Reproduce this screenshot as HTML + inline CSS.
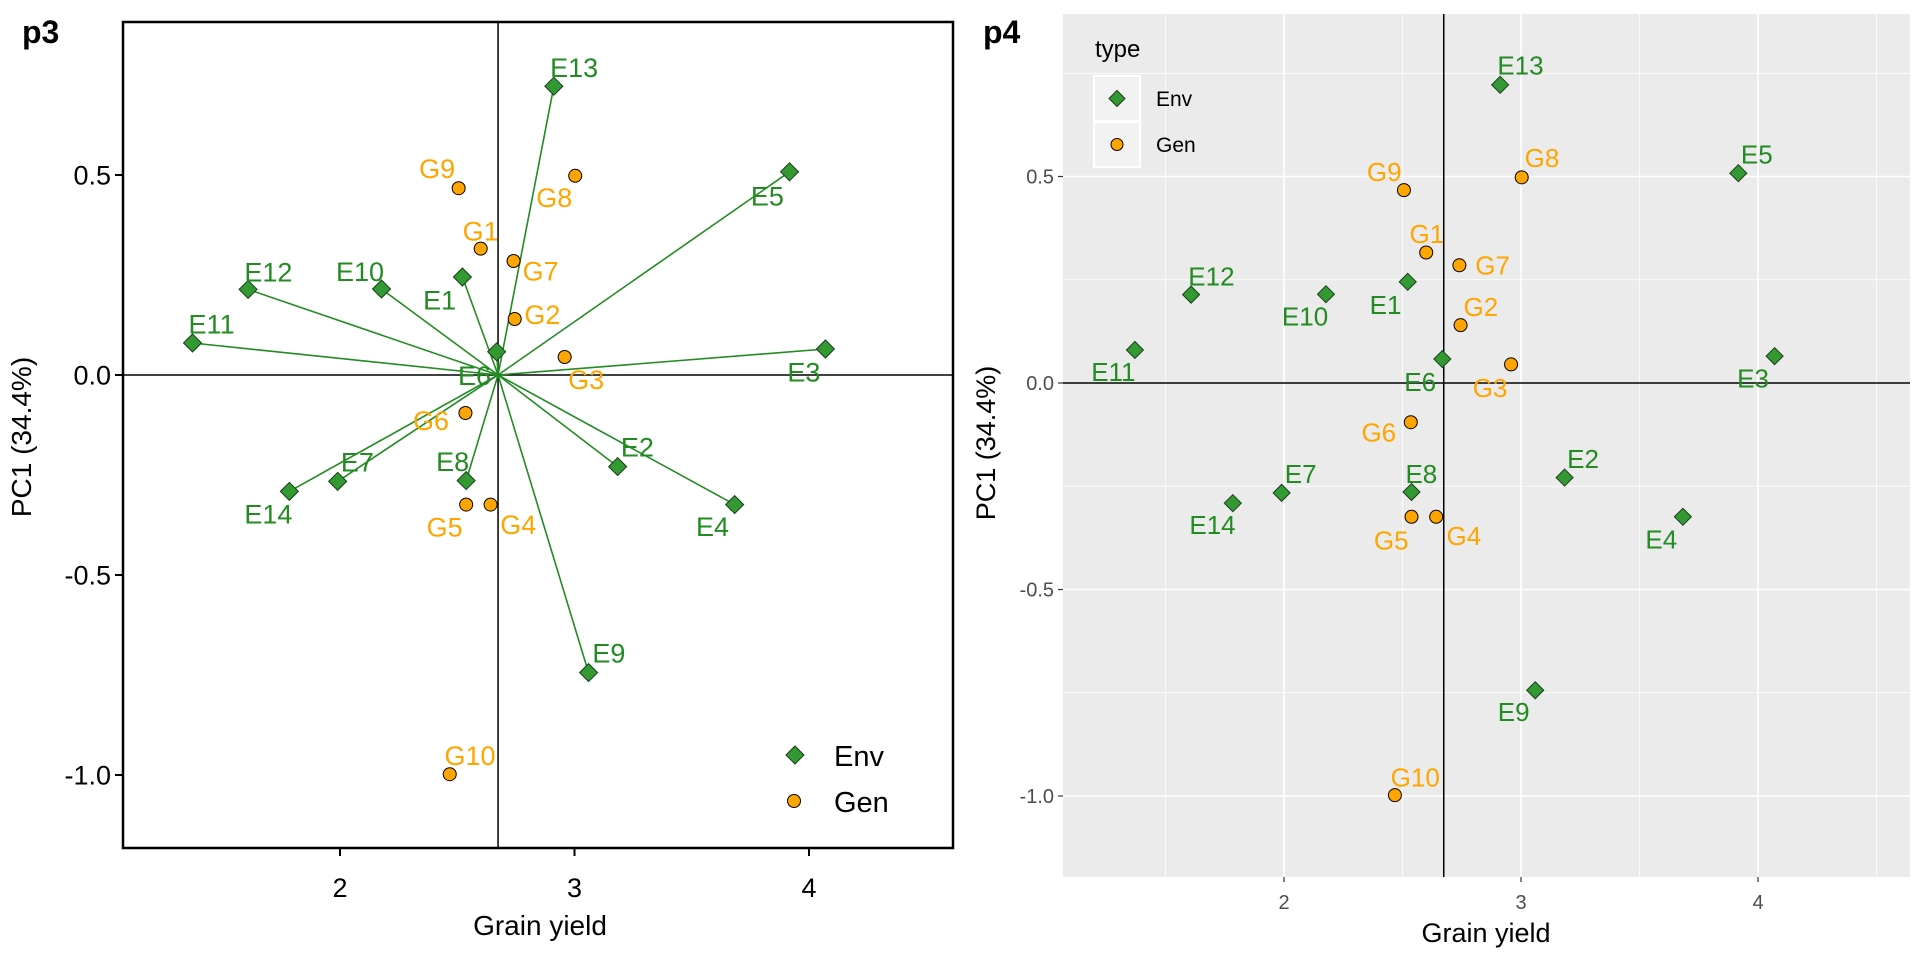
<!DOCTYPE html>
<html><head><meta charset="utf-8"><style>
html,body{margin:0;padding:0;background:#fff}
svg{display:block;font-family:"Liberation Sans",Arial,sans-serif}
</style></head><body>
<svg id="fig" width="1920" height="960" viewBox="0 0 1920 960" xmlns="http://www.w3.org/2000/svg">
<g id="p3"></g>
<g id="p4"></g>
</svg>
<script>
const envNames = ["E1","E2","E3","E4","E5","E6","E7","E8","E9","E10","E11","E12","E13","E14"];
const envX = [2.522,3.184,4.070,3.683,3.917,2.668,1.990,2.538,3.060,2.177,1.371,1.608,2.912,1.784];
const envY = [0.245,-0.229,0.065,-0.324,0.508,0.058,-0.266,-0.264,-0.744,0.215,0.080,0.214,0.722,-0.291];
const genNames = ["G1","G2","G3","G4","G5","G6","G7","G8","G9","G10"];
const genX = [2.600,2.745,2.958,2.642,2.538,2.535,2.740,3.003,2.506,2.468];
const genY = [0.316,0.140,0.045,-0.324,-0.324,-0.095,0.285,0.498,0.467,-0.998];
const xTicks = [2,3,4];
const yTicks = [0.5,0.0,-0.5,-1.0];
const yTickLabels = ["0.5","0.0","-0.5","-1.0"];
const meanYield = 2.674;

// label offsets (layout, in zoom units, scaled below)
const envOff3 = [[-37,37],[32,-32],[-35,37],[-36,35],[-36,39],[-36,38],[32,-32],[-22,-31],[33,-32],[-35,-29],[31,-31],[33,-29],[33,-31],[-34,36]];
const genOff3 = [[0,-29],[45,-8],[35,36],[45,32],[-35,36],[-56,12],[44,16],[-34,35],[-35,-32],[33,-31]];
const envOff4 = [[-36,37],[30,-31],[-35,36],[-35,36],[30,-31],[-36,37],[31,-31],[16,-30],[-35,35],[-34,36],[-35,35],[33,-30],[33,-32],[-33,35]];
const genOff4 = [[1,-31],[33,-30],[-34,38],[45,31],[-33,38],[-52,16],[54,0],[33,-32],[-32,-30],[33,-29]];
const K = 1/1.625;
const NS = "http://www.w3.org/2000/svg";
const GREEN = "#228B22", FILLG = "#339933", ORANGE = "#FFA500";

function mk(parent, tag, attrs, text){
  const e = document.createElementNS(NS, tag);
  for (const k in attrs) e.setAttribute(k, attrs[k]);
  if (text !== undefined) e.textContent = text;
  parent.appendChild(e);
  return e;
}
function diamond(g, x, y, r){
  return mk(g,"polygon",{points:`${x},${y-r} ${x+r},${y} ${x},${y+r} ${x-r},${y}`,fill:FILLG,stroke:"#1a3d1a","stroke-width":1});
}
function circ(g, x, y, r){
  return mk(g,"circle",{cx:x,cy:y,r:r,fill:ORANGE,stroke:"#000","stroke-width":1});
}

function panel(g, o){
  const sx = v => o.x0 + (v - o.xv0) * o.kx;
  const sy = v => o.y0 - v * o.ky;
  if (o.gg) {
    const bg = mk(g,"rect",{x:o.L,y:o.T,width:o.R-o.L,height:o.B-o.T,fill:"#EBEBEB"});
    
    
    [1.5,2.5,3.5,4.5].forEach(v=>{const px=sx(v); if(px>o.L&&px<o.R) mk(g,"line",{x1:px,x2:px,y1:o.T,y2:o.B,stroke:"#fff","stroke-width":0.8});});
    [0.75,0.25,-0.25,-0.75].forEach(v=>{const py=sy(v); mk(g,"line",{x1:o.L,x2:o.R,y1:py,y2:py,stroke:"#fff","stroke-width":0.8});});
    xTicks.forEach(v=>mk(g,"line",{x1:sx(v),x2:sx(v),y1:o.T,y2:o.B,stroke:"#fff","stroke-width":1.6}));
    yTicks.forEach(v=>mk(g,"line",{x1:o.L,x2:o.R,y1:sy(v),y2:sy(v),stroke:"#fff","stroke-width":1.6}));
  }
  const vl = mk(g,"line",{x1:sx(meanYield),x2:sx(meanYield),y1:o.T,y2:o.B,stroke:"#000","stroke-width":1.5});
  
  
  const hl = mk(g,"line",{x1:o.L,x2:o.R,y1:sy(0),y2:sy(0),stroke:"#000","stroke-width":1.5});
  
  
  if (o.vectors) {
    envX.forEach((v,i)=>{
      const l = mk(g,"line",{x1:sx(meanYield),y1:sy(0),x2:sx(v),y2:sy(envY[i]),stroke:GREEN,"stroke-width":1.6});
      
      
    });
  }
  xTicks.forEach(v=>{
    const px = sx(v);
    mk(g,"line",{x1:px,x2:px,y1:o.B,y2:o.B+o.tl,stroke:o.tc,"stroke-width":o.gg?1.2:2});
    const t = mk(g,"text",{x:px,y:o.xly,"text-anchor":"middle","font-size":o.tfs,fill:o.tlc},String(v));
    
    
  });
  yTicks.forEach((v,i)=>{
    const py = sy(v);
    mk(g,"line",{x1:o.L-o.tl,x2:o.L,y1:py,y2:py,stroke:o.tc,"stroke-width":o.gg?1.2:2});
    const t = mk(g,"text",{x:o.L-o.tl-4,y:py+o.tfs*0.36,"text-anchor":"end","font-size":o.tfs,fill:o.tlc},yTickLabels[i]);
    
    
  });
  if (!o.gg) {
    const fr = mk(g,"rect",{x:o.L,y:o.T,width:o.R-o.L,height:o.B-o.T,fill:"none",stroke:"#000","stroke-width":2.5});
    
    
  }
  envX.forEach((v,i)=>{
    const d = diamond(g, sx(v), sy(envY[i]), o.dr);
    
    
  });
  genX.forEach((v,i)=>{
    const c = circ(g, sx(v), sy(genY[i]), o.cr);
    
    
  });
  envX.forEach((v,i)=>{
    const t = mk(g,"text",{x:sx(v)+o.eoff[i][0]*K,y:sy(envY[i])+o.eoff[i][1]*K+o.lfs*0.36,"text-anchor":"middle","font-size":o.lfs,fill:GREEN},envNames[i]);
    
    
  });
  genX.forEach((v,i)=>{
    const t = mk(g,"text",{x:sx(v)+o.goff[i][0]*K,y:sy(genY[i])+o.goff[i][1]*K+o.lfs*0.36,"text-anchor":"middle","font-size":o.lfs,fill:ORANGE},genNames[i]);
    
    
  });
  const xt = mk(g,"text",{x:o.xtx,y:o.xty,"text-anchor":"middle","font-size":o.afs,fill:"#000"},"Grain yield");
  
  
  const yt = mk(g,"text",{x:0,y:0,"text-anchor":"middle","font-size":o.afs,fill:"#000",transform:`translate(${o.ytx},${o.yty}) rotate(-90)`},"PC1 (34.4%)");
  
  
  const tt = mk(g,"text",{x:o.ptx,y:43,"font-size":32,"font-weight":"bold",fill:"#000"},o.title);
  
  
}

panel(document.getElementById('p3'), {
  L:123,R:953,T:22,B:848, x0:340,xv0:2,kx:234.5, y0:375,ky:400,
  gg:false, vectors:true, tl:8, tc:"#000", tlc:"#000", tfs:27, xly:897,
  dr:9, cr:6.5, lfs:27, afs:28, xtx:540, xty:935, ytx:31, yty:437,
  eoff:envOff3, goff:genOff3, ptx:22, title:"p3"
});
panel(document.getElementById('p4'), {
  L:1063,R:1910,T:14,B:877, x0:1284,xv0:2,kx:237, y0:383,ky:413,
  gg:true, vectors:false, tl:5, tc:"#333", tlc:"#4D4D4D", tfs:20, xly:909,
  dr:8.5, cr:6.5, lfs:26, afs:27, xtx:1486, xty:942, ytx:995, yty:443,
  eoff:envOff4, goff:genOff4, ptx:983, title:"p4"
});

const lg3 = document.getElementById('p3');
const d3 = diamond(lg3, 795, 755, 9);


const c3 = circ(lg3, 794, 801, 6.5);


const le3 = mk(lg3,"text",{x:834,y:766,"font-size":29,fill:"#000"},"Env");


const lgn3 = mk(lg3,"text",{x:834,y:812,"font-size":29,fill:"#000"},"Gen");



const lg4 = document.getElementById('p4');
const lt = mk(lg4,"text",{x:1095,y:57,"font-size":24,fill:"#000"},"type");


[[76,"Env"],[122,"Gen"]].forEach(([y,n],i)=>{
  const r = mk(lg4,"rect",{x:1094,y:y,width:46,height:45,fill:"#F2F2F2",stroke:"#fff","stroke-width":2});
  
  
  const k = i===0 ? diamond(lg4,1117,y+22.5,8) : circ(lg4,1117,y+22.5,6);
  
  
  const t = mk(lg4,"text",{x:1156,y:y+30,"font-size":21,fill:"#000"},n);
  
  
});
</script>
</body></html>
